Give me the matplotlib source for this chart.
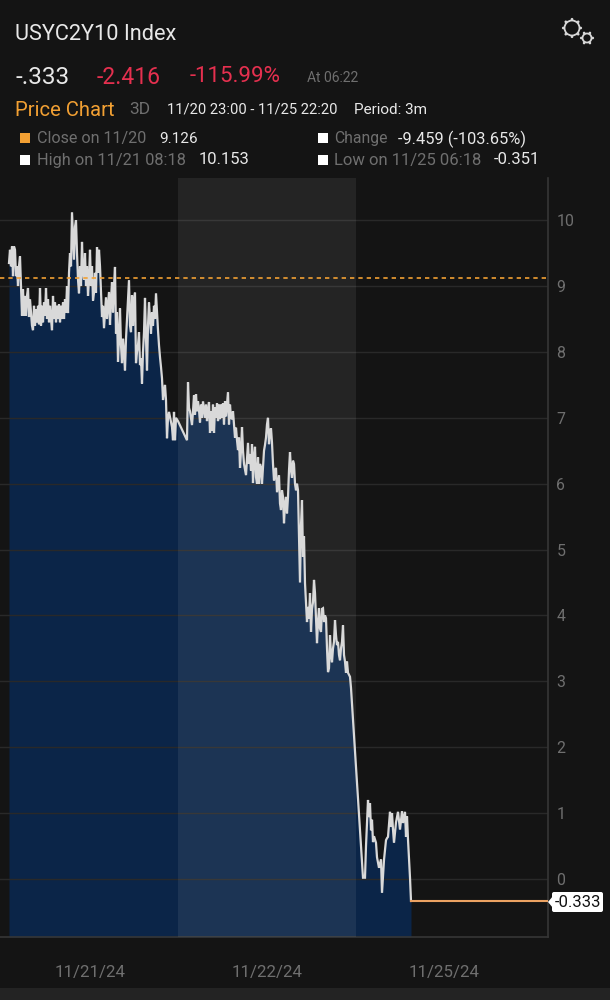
import math
import matplotlib
matplotlib.use("Agg")
import matplotlib.pyplot as plt
from matplotlib.patches import Circle, Rectangle, FancyBboxPatch, Polygon

# bar position (chart bars, one unit ~ one plotted column) and yield spread value
bars_a = [0,1,2,3,4,5,6,7,8,9,10,11,12,13,14,15,16,17,18,19,20,21,22,23,24,25,26,27,28,29,30,31,32,33,34,35,36,37,38,39,40,41,42,43,44,45,46,47,48,49,50,51,52,53,54,55,56,57,58]
vals_a = [9.35,9.55,9.3,9.6,9.15,9.6,9.55,9.15,9.3,9.0,9.3,9.45,9.0,8.55,8.95,8.55,8.85,8.55,8.85,8.97,8.53,8.8,8.6,8.4,8.33,8.7,8.4,8.65,8.45,8.7,8.42,8.97,8.4,8.7,8.45,8.75,8.55,8.97,8.5,8.8,8.45,8.7,8.5,8.33,8.85,8.5,8.75,8.45,8.7,8.5,8.72,8.45,8.7,8.5,8.75,8.5,8.8,8.6,9.0]
bars_b = [59,60,61,62,63,64,65,66,67,68,69,70,71,72,73,74,75,76,77,78,79,80,81,82,83,84,85,86,87,88,89,90,91,92,93,94,95,96,97,98,99,100,101,102,103,104,105,106,107,108,109,110,111,112,113,114,115,116,117,118,119,120,121,122,123,124,125,126,127,128,129,130,131,132,133,134,135,136,137,138,139,140,141,142,143,144,145,146,147,148,149,150,151,152,153,154,155,156,157,158,159,160]
vals_b = [8.59,9.2,9.5,9.3,10.12,9.74,9.4,9.9,10.0,9.5,9.1,8.89,9.3,9.0,9.67,9.2,9.1,9.5,9.0,9.3,8.85,9.1,9.55,9.0,9.3,8.78,8.9,9.2,8.9,9.59,9.2,9.55,9.3,8.9,8.53,8.7,8.36,8.6,8.83,8.5,8.7,8.91,8.41,8.8,9.06,8.6,9.0,9.29,8.28,8.6,7.85,8.2,8.66,8.1,7.83,8.2,8.0,7.72,8.2,8.5,8.8,9.09,8.4,8.3,8.86,8.4,8.78,8.9,7.83,8.0,8.1,8.3,7.8,7.9,7.52,8.0,8.3,8.82,8.2,7.72,8.4,8.75,8.5,8.28,8.6,8.4,8.7,8.5,8.89,8.6,8.33,8.1,7.92,7.77,7.6,7.27,7.4,7.5,7.27,6.69,7.0,7.09]
bars_c = [163,164,165,166,167,169,178,179,180,181,183,184,185,186,187,188,189,190,191,192,193,194,195,196,197,198,199,200,201,202,203,204,205,206,207,208,209,210,211,212,213,214,215,216,217,218,219,220,221,222,223,224,225,226,227,228,229,230,231,232,233,234,235,237,239,240,241,242,243,244,245,246,247,248,249,250,251,252,253,254,255,256,257,258,259,260,261,262,263,264,265,266,267,268,269,270,271,272,273,274,275,276,277,278,279,280,281,282,283,284,285,286,287,288,289]
vals_c = [6.86,6.66,7.09,6.66,7.0,6.95,6.66,7.54,7.15,7.1,6.89,7.1,7.34,7.05,7.36,7.1,7.25,7.12,6.93,7.2,7.0,7.25,7.12,7.0,7.2,6.95,7.12,7.24,6.77,7.1,6.8,7.2,6.77,7.16,7.0,7.22,6.95,7.2,6.98,7.2,7.0,7.22,6.9,7.25,7.02,7.2,7.39,6.9,7.2,7.0,6.98,7.1,6.9,6.7,6.85,6.66,6.51,6.7,6.24,6.5,6.86,6.5,6.3,6.13,6.62,6.3,6.45,6.2,6.6,6.01,6.4,6.56,6.1,6.0,6.4,6.0,6.3,6.25,6.0,6.24,6.5,6.59,6.7,6.9,7.0,6.6,6.8,6.84,6.62,6.3,6.05,6.2,6.24,5.87,6.0,6.13,5.7,5.6,5.9,5.8,5.4,5.7,5.8,5.55,5.8,6.2,6.48,6.2,6.09,6.35,6.3,6.0,5.9,6.0,5.9]
bars_d = [291,292,293,294,295,296,297,298,299,300,301,302,303,304,305,306,307,308,309,310,311,312,313,314,315,316,317,318,319,320,321,322,323,324,325,326,327,328,329,330,331,332,333,334,335,336,337,338,339,340,341,342]
vals_d = [4.5,5.37,5.75,4.89,5.2,4.49,4.2,3.9,4.13,3.95,4.34,3.75,4.1,4.2,4.54,4.34,3.95,3.58,3.9,4.11,3.8,3.75,4.1,4.11,3.9,4.0,3.96,3.5,3.14,3.2,3.7,3.4,3.29,3.5,3.6,3.93,3.7,3.55,3.6,3.4,3.32,3.5,3.6,3.85,3.4,3.3,3.13,3.3,3.13,3.1,3.07,2.9]
bars_e = [354,356,357,359,360,361,362,363,364,365,367,368,370,372,373,375,377,378,379,381,382,383,384,385,387,389,391,393,394,396,397,398,399,401,402]
vals_e = [0.02,0.02,0.5,1.2,0.94,1.15,0.74,0.9,0.56,0.65,0.55,0.33,0.17,0.3,-0.21,0.29,0.59,0.62,0.64,1.02,0.79,1.0,0.75,0.55,0.86,1.02,0.75,1.03,0.85,1.02,0.64,0.95,0.6,0.02,-0.333]

bars = bars_a + bars_b + bars_c + bars_d + bars_e
values = vals_a + vals_b + vals_c + vals_d + vals_e

y_ticks = [0, 1, 2, 3, 4, 5, 6, 7, 8, 9, 10]
date_ticks = [81, 258, 435]
date_labels = ["11/21/24", "11/22/24", "11/25/24"]
prev_close = 9.126
last_price = -0.333
session_start, session_end = 169, 347

BG = "#141414"
GREY = "#6f6f6f"
WHITE = "#e8e8e8"
ORANGE = "#f2a033"
RED = "#e5304f"
plt.rcParams["font.family"] = ["Roboto", "DejaVu Sans"]

fig = plt.figure(figsize=(6.1, 10), dpi=100, facecolor=BG)
ax = fig.add_axes([0, 1 - 937 / 1000, 548 / 610, (937 - 178) / 1000], facecolor=BG)
ax.set_xlim(-9, 539)
ax.set_ylim(-0.88, 10.64)

ax.fill_between(bars, values, -0.88, color="#0b2548", lw=0, zorder=1)
ax.set_yticks(y_ticks)
ax.grid(axis="y", color="#292929", lw=1, zorder=2)
ax.axvspan(session_start, session_end, color="white", alpha=0.07, lw=0, zorder=3)
ax.plot(bars, values, color="#d9d9d9", lw=1.6, solid_joinstyle="miter", zorder=4)
ax.axhline(prev_close, color=ORANGE, lw=1.2, dashes=(2.6, 2.4), zorder=5)
ax.plot([bars[-1], 539], [last_price, last_price], color="#eca262", lw=1.5, zorder=5)

ax.yaxis.tick_right()
ax.set_xticks(date_ticks, date_labels)
ax.tick_params(axis="y", length=0, pad=6, labelsize=11.4, labelcolor=GREY)
ax.tick_params(axis="x", length=0, pad=20, labelsize=12.2, labelcolor=GREY)
for s in ("top", "left"):
    ax.spines[s].set_visible(False)
for s in ("right", "bottom"):
    ax.spines[s].set_color("#363636")
    ax.spines[s].set_linewidth(1.2)

# header overlay in pixel space
ov = fig.add_axes([0, 0, 1, 1], facecolor="none")
ov.set_xlim(0, 610)
ov.set_ylim(1000, 0)
ov.axis("off")


def label(x, y, s, color=WHITE, size=11.8, **kw):
    ov.text(x, y, s, color=color, fontsize=size, va="center", ha="left", **kw)


label(15, 34, "USYC2Y10 Index", size=15.7)
label(15, 77, "-.333", size=17.5)
label(97, 77, "-2.416", color=RED, size=16.5)
label(190, 77, "-115.99%", color=RED, size=16)
label(307, 78, "At 06:22", color=GREY, size=10)
label(15, 110, "Price Chart", color=ORANGE, size=14.6)
label(129, 110, "3D", color=GREY, size=12.5)
label(167, 110, "11/20 23:00 - 11/25 22:20", size=10.6)
label(354, 110, "Period: 3m", size=11)
label(37, 139, "Close on 11/20", color=GREY, size=11.6)
label(159, 139, "9.126", size=11)
label(37, 160, "High on 11/21 08:18", color=GREY)
label(199, 160, "10.153", size=12)
label(334, 139, "Change", color=GREY, size=11.3)
label(398, 139, "-9.459 (-103.65%)")
label(334, 160, "Low on 11/25 06:18", color=GREY, size=12)
label(494, 160, "-0.351", size=12)
for x, y, c in [(20, 133, ORANGE), (20, 155, "white"), (318, 133, "white"), (318, 155, "white")]:
    ov.add_patch(Rectangle((x, y), 10, 10, color=c, lw=0))

# settings gears
for cx, cy, r, n in [(572, 28, 7.5, 8), (587, 38, 4.5, 6)]:
    ov.add_patch(Circle((cx, cy), r, fill=False, ec="#d8d8d8", lw=1.3))
    for k in range(n):
        a = 2 * math.pi * k / n
        ov.add_patch(Circle((cx + (r + 1.3) * math.cos(a), cy + (r + 1.3) * math.sin(a)), 1.3, color="#d8d8d8", lw=0))

# last-price tag
ov.add_patch(Polygon([(548, 902), (553, 896), (553, 908)], color="white", lw=0))
ov.add_patch(FancyBboxPatch((552, 892), 51, 20, boxstyle="round,pad=0,rounding_size=2", fc="white", ec="none"))
ov.text(578, 902.5, "-0.333", color="#111111", fontsize=12, ha="center", va="center")

# bottom strip
ov.add_patch(Rectangle((0, 988), 610, 12, color="#232323", lw=0))

fig.savefig("out.png", dpi=100, facecolor=BG)
